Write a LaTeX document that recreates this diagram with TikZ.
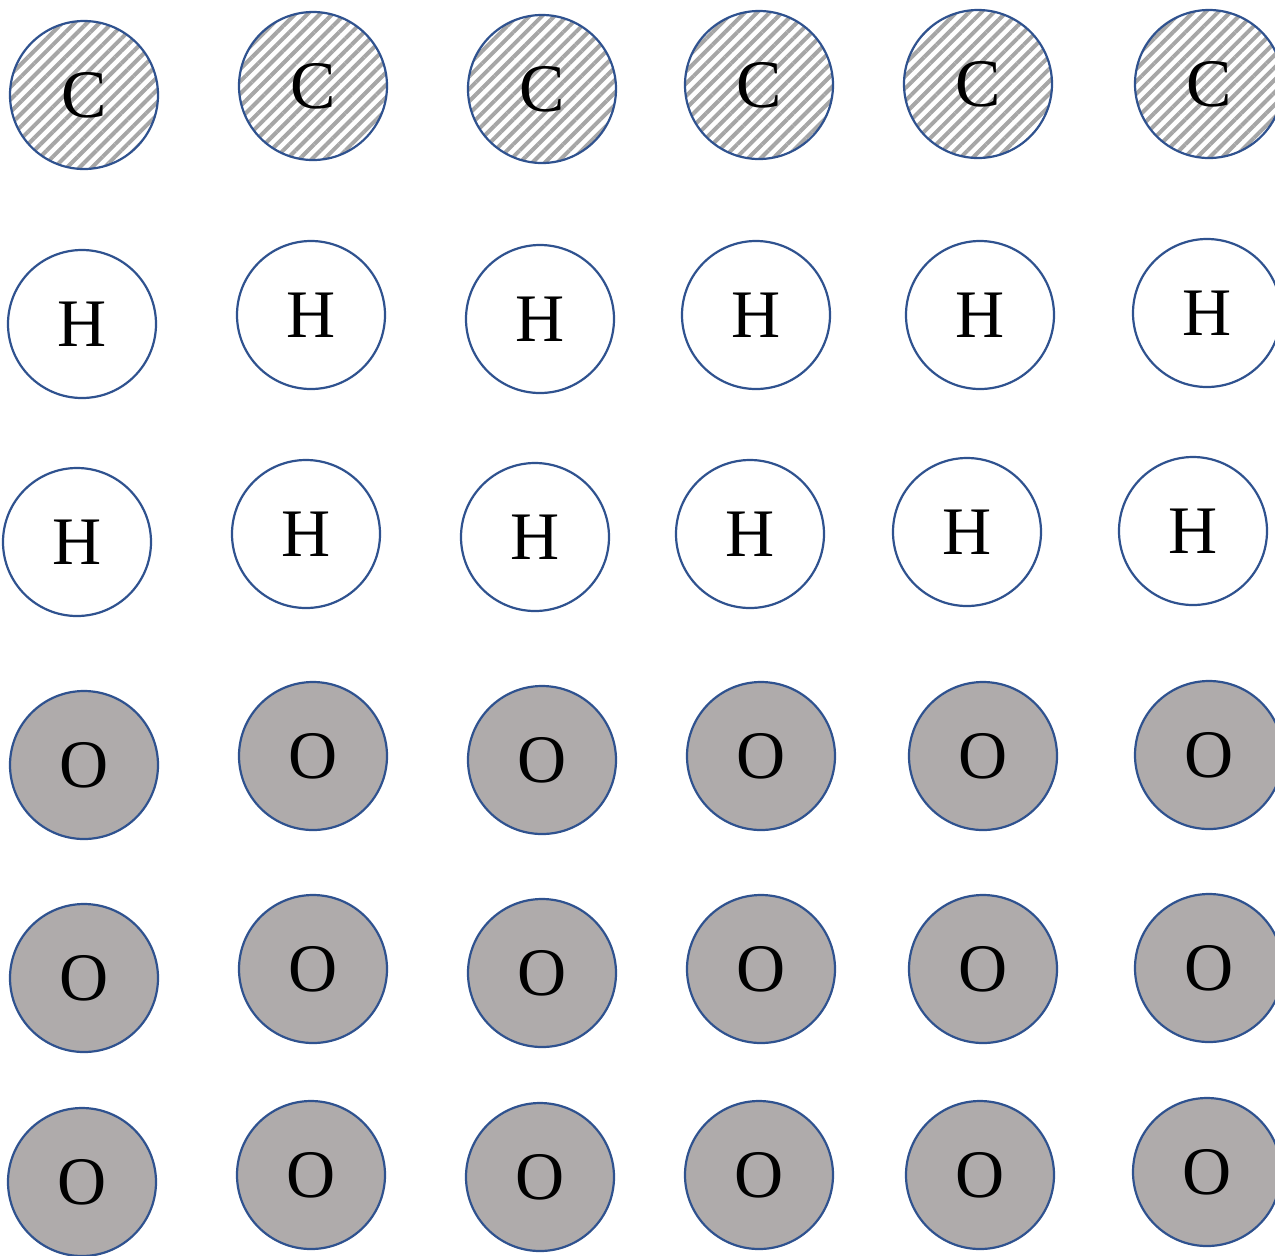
\documentclass[tikz,border=0pt]{standalone}
\usepackage{fontspec}
\setmainfont{Liberation Serif}
\usetikzlibrary{patterns.meta}
\definecolor{ringblue}{HTML}{2F528F}
\definecolor{ogray}{HTML}{AFABAB}
\definecolor{hatchgray}{HTML}{A6A6A6}
\begin{document}
\begin{tikzpicture}[x=0.5pt,y=-0.5pt,
  atom/.style={circle, draw=ringblue, line width=1.1pt, minimum size=74pt, inner sep=0pt,
    font=\fontsize{34}{36}\selectfont},
  catom/.style={atom, pattern={Lines[angle=45,distance=4.4pt,line width=2pt]}, pattern color=hatchgray},
  hatom/.style={atom, fill=white},
  oatom/.style={atom, fill=ogray}]
\useasboundingbox (0,0) rectangle (1275,1255);
% carbon
\node[catom] (c1) at (84,95) {C};
\node[catom] (c2) at (313,86) {C};
\node[catom] (c3) at (542,89) {C};
\node[catom] (c4) at (759,85) {C};
\node[catom] (c5) at (978,84) {C};
\node[catom] (c6) at (1209,84) {C};
% hydrogen
\node[hatom] (ha1) at (82,324) {H};
\node[hatom] (ha2) at (311,315) {H};
\node[hatom] (ha3) at (540,319) {H};
\node[hatom] (ha4) at (756,315) {H};
\node[hatom] (ha5) at (980,315) {H};
\node[hatom] (ha6) at (1207,313) {H};
\node[hatom] (hb1) at (77,542) {H};
\node[hatom] (hb2) at (306,534) {H};
\node[hatom] (hb3) at (535,537) {H};
\node[hatom] (hb4) at (750,534) {H};
\node[hatom] (hb5) at (967,532) {H};
\node[hatom] (hb6) at (1193,531) {H};
% oxygen
\node[oatom] (oa1) at (84,765) {O};
\node[oatom] (oa2) at (313,756) {O};
\node[oatom] (oa3) at (542,760) {O};
\node[oatom] (oa4) at (761,756) {O};
\node[oatom] (oa5) at (983,756) {O};
\node[oatom] (oa6) at (1209,755) {O};
\node[oatom] (ob1) at (84,978) {O};
\node[oatom] (ob2) at (313,969) {O};
\node[oatom] (ob3) at (542,973) {O};
\node[oatom] (ob4) at (761,969) {O};
\node[oatom] (ob5) at (983,969) {O};
\node[oatom] (ob6) at (1209,968) {O};
\node[oatom] (oc1) at (82,1182) {O};
\node[oatom] (oc2) at (311,1175) {O};
\node[oatom] (oc3) at (540,1177) {O};
\node[oatom] (oc4) at (759,1175) {O};
\node[oatom] (oc5) at (980,1175) {O};
\node[oatom] (oc6) at (1207,1172) {O};
\end{tikzpicture}
\end{document}
